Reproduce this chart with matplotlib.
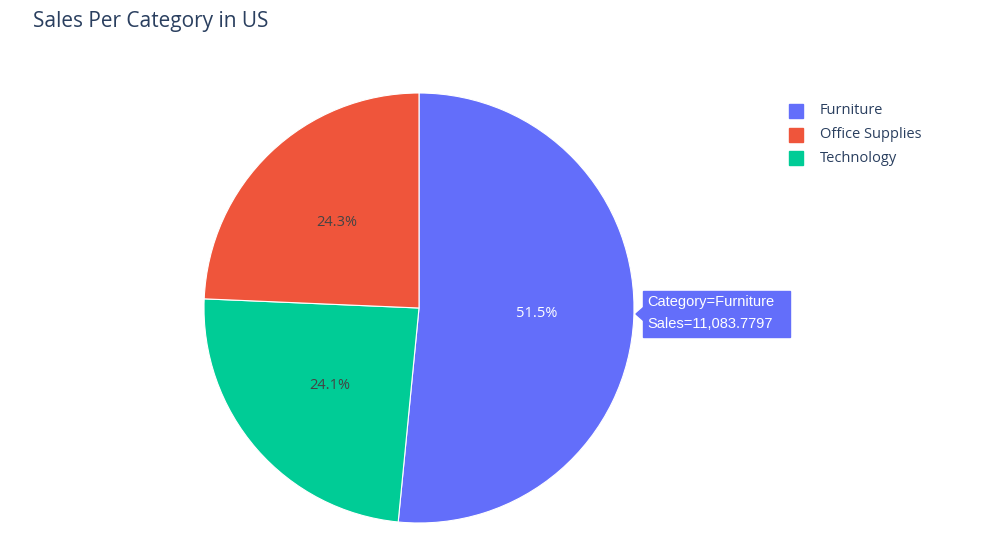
import matplotlib.pyplot as plt
from matplotlib.patches import Rectangle

plt.rcParams["font.family"] = "Open Sans"

# data (drawing order clockwise from top)
categories = ["Furniture", "Technology", "Office Supplies"]
sales = [11083.7797, 5190.0, 5230.0]
colors = ["#636efa", "#00cc96", "#ef553b"]
legend_order = ["Furniture", "Office Supplies", "Technology"]

W, H = 988, 542
fig = plt.figure(figsize=(W / 100, H / 100), dpi=100)

cx, cy, r = 419, 308, 215
ax = fig.add_axes([(cx - r) / W, 1 - (cy + r) / H, 2 * r / W, 2 * r / H])
wedges, texts, autotexts = ax.pie(
    sales, colors=colors, startangle=90, counterclock=False,
    autopct="%1.1f%%", pctdistance=0.55,
    wedgeprops=dict(linewidth=0.8, edgecolor="white"),
    textprops=dict(fontsize=10.5, color="#444444"))
autotexts[0].set_color("white")
ax.set_aspect("auto")
ax.set_xlim(-1, 1)
ax.set_ylim(-1, 1)

fig.text(33 / W, 1 - 22 / H, "Sales Per Category in US", fontsize=15,
         color="#2a3f5f", va="center")

# legend
cmap = dict(zip(categories, colors))
for i, name in enumerate(legend_order):
    y = 111 + i * 23.5
    fig.patches.append(Rectangle((789 / W, 1 - (y + 7) / H), 14 / W, 14 / H,
                                 transform=fig.transFigure, color=cmap[name]))
    fig.text(820 / W, 1 - y / H, name, fontsize=10.5, color="#2a3f5f", va="center")

# hover label
fig.patches.append(Rectangle((643 / W, 1 - 337 / H), 147 / W, 46 / H,
                             transform=fig.transFigure, color="#636efa"))
fig.patches.append(plt.Polygon([[636 / W, 1 - 314 / H], [644 / W, 1 - 307 / H],
                                [644 / W, 1 - 321 / H]],
                               transform=fig.transFigure, color="#636efa"))
fig.text(647 / W, 1 - 302 / H, "Category=Furniture", fontsize=10.5,
         color="white", va="center", family="Liberation Sans")
fig.text(647 / W, 1 - 324 / H, f"Sales={sales[0]:,.4f}", fontsize=10.5,
         color="white", va="center", family="Liberation Sans")

fig.savefig("out.png", dpi=100)
